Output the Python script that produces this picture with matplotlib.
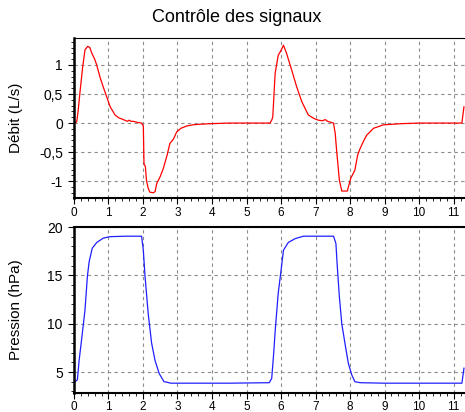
import matplotlib
matplotlib.use('Agg')
import matplotlib.pyplot as plt
import matplotlib.ticker as mtick

plt.rcParams['font.family'] = ['Liberation Sans', 'DejaVu Sans']

# Flow signal (L/s) vs time (s)
t_flow = [0, 0.08, 0.12, 0.17, 0.25, 0.32, 0.40, 0.46, 0.52, 0.60, 0.66, 0.75, 0.85,
          0.95, 1.05, 1.19, 1.30, 1.43, 1.55, 1.60, 1.65, 1.72, 1.85, 1.96,
          2.01, 2.03, 2.07, 2.10, 2.15, 2.20, 2.30, 2.35, 2.40, 2.50, 2.59, 2.70,
          2.78, 2.88, 2.98, 3.10, 3.27, 3.45, 3.65, 4.0, 4.5, 5.0, 5.3, 5.68,
          5.73, 5.76, 5.83, 5.92, 6.00, 6.07, 6.16, 6.31, 6.45, 6.60, 6.79, 6.95,
          7.08, 7.20, 7.28, 7.35, 7.52,
          7.57, 7.61, 7.69, 7.76, 7.92, 8.02, 8.14, 8.22, 8.29, 8.40, 8.48, 8.68,
          8.97, 9.5, 10.0, 10.5, 11.0, 11.24, 11.3]
flow = [0, 0.02, 0.2, 0.5, 0.95, 1.26, 1.32, 1.30, 1.2, 1.1, 1.0, 0.8, 0.62,
        0.45, 0.28, 0.14, 0.09, 0.06, 0.03, 0.05, 0.03, 0.03, 0.01, 0,
        -0.05, -0.7, -0.75, -0.98, -1.12, -1.19, -1.2, -1.18, -1.04, -0.92, -0.78, -0.55,
        -0.35, -0.28, -0.15, -0.09, -0.05, -0.03, -0.02, -0.01, 0, 0, 0, 0,
        0.05, 0.1, 0.86, 1.17, 1.25, 1.34, 1.2, 0.91, 0.63, 0.37, 0.14, 0.08,
        0.05, 0.04, 0.06, 0.03, 0,
        -0.18, -0.47, -0.98, -1.17, -1.17, -0.95, -0.81, -0.55, -0.44, -0.3, -0.21, -0.09,
        -0.03, -0.01, 0, 0, 0, 0, 0.28]

# Pressure signal (hPa) vs time (s)
t_pres = [0, 0.10, 0.15, 0.22, 0.32, 0.39, 0.44, 0.53, 0.66, 0.85, 1.04, 1.5, 1.96,
          2.01, 2.06, 2.15, 2.25, 2.35, 2.47, 2.61, 2.70, 2.8, 3.5, 4.5, 5.66,
          5.73, 5.78, 5.84, 5.92, 5.99, 6.07, 6.21, 6.41, 6.65, 7.0, 7.52,
          7.59, 7.63, 7.69, 7.76, 7.86, 7.95, 8.05, 8.14, 8.3, 9.0, 10.0, 11.24, 11.3]
pres = [3.9, 4.2, 6.2, 8.3, 11.4, 14.9, 16.4, 17.8, 18.4, 18.85, 19.0, 19.05, 19.05,
        17.6, 14.9, 11.1, 8.0, 6.2, 4.85, 4.0, 3.95, 3.85, 3.85, 3.85, 3.9,
        4.35, 6.6, 9.7, 13.2, 15.2, 17.6, 18.4, 18.8, 19.05, 19.05, 19.05,
        18.3, 15.9, 12.8, 10.0, 7.8, 5.9, 4.7, 4.0, 3.9, 3.85, 3.85, 3.85, 5.4]

x_max = 11.33


def comma_fmt(v, pos):
    return ('%g' % v).replace('.', ',')


fig = plt.figure(figsize=(4.65, 4.12), dpi=100)
ax1 = fig.add_axes([0.159, 0.519, 0.841, 0.389])
ax2 = fig.add_axes([0.159, 0.046, 0.841, 0.403])

ax1.plot(t_flow, flow, color='#ff0000', linewidth=0.9)
ax2.plot(t_pres, pres, color='#2020ff', linewidth=0.9)

ax1.set_ylim(-1.293, 1.466)
ax1.set_yticks([-1, -0.5, 0, 0.5, 1])
ax1.yaxis.set_minor_locator(mtick.MultipleLocator(0.1))
ax1.yaxis.set_major_formatter(mtick.FuncFormatter(comma_fmt))
ax1.set_ylabel('Débit (L/s)', fontsize=11)

ax2.set_ylim(2.83, 20)
ax2.set_yticks([5, 10, 15, 20])
ax2.yaxis.set_minor_locator(mtick.MultipleLocator(1))
ax2.set_ylabel('Pression (hPa)', fontsize=11)

for ax in (ax1, ax2):
    ax.set_xlim(0, x_max)
    ax.set_xticks(range(0, 12))
    ax.xaxis.set_minor_locator(mtick.MultipleLocator(0.2))
    ax.grid(True, which='major', linestyle=(0, (3, 3)), color='#8c8c8c', linewidth=0.8)
    ax.spines['right'].set_visible(False)
    ax.spines['left'].set_linewidth(1.8)
    ax.spines['bottom'].set_linewidth(1.5)
    ax.tick_params(axis='x', which='major', length=4, width=0.8, labelsize=8.5, pad=2)
    ax.tick_params(axis='y', which='major', length=4, width=0.8, labelsize=10, pad=4)
    ax.tick_params(axis='both', which='minor', length=2.5, width=0.6)
    ax.yaxis.set_label_coords(-0.13, 0.5)

ax1.spines['top'].set_linewidth(0.8)
ax2.spines['top'].set_linewidth(1.5)

fig.text(0.51, 0.958, 'Contrôle des signaux', ha='center', va='center', fontsize=13)

fig.savefig('out.png', dpi=100)
